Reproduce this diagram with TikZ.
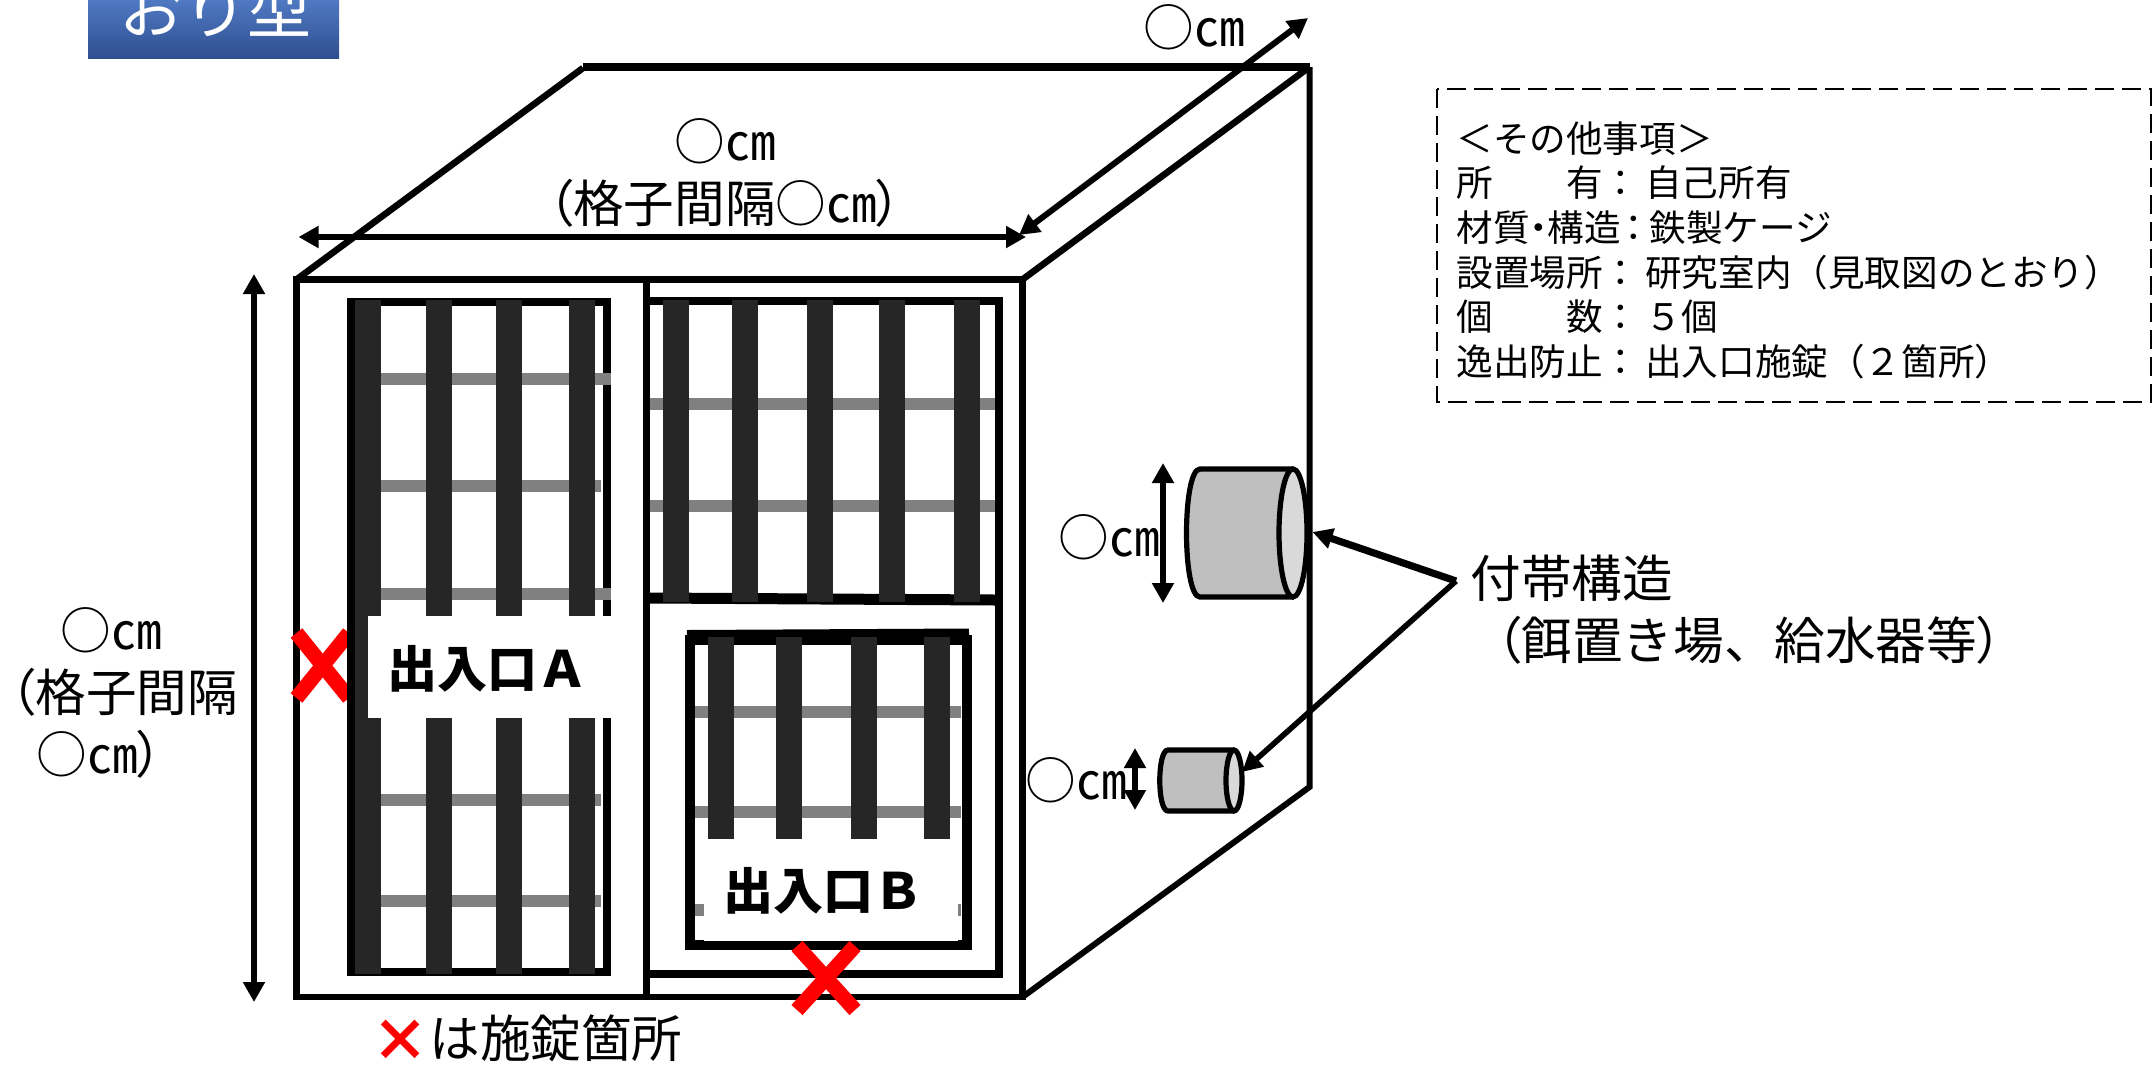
\documentclass[tikz,border=0pt]{standalone}
\usepackage{fontspec}
\setmainfont{Noto Sans CJK JP}
\newfontfamily\jpp[RawFeature=+palt]{Noto Sans CJK JP}
\usetikzlibrary{arrows.meta,shadings}
\newcommand{\lpr}{{\jpp （}}
\newcommand{\rpr}{{\jpp ）}}
\newcommand{\mdot}{{\jpp ・}}
\newcommand{\colo}{：\hspace{3pt}}
\definecolor{bardark}{HTML}{262626}
\definecolor{bargray}{HTML}{808080}
\definecolor{cylbody}{HTML}{BFBFBF}
\definecolor{cylface}{HTML}{D9D9D9}
\definecolor{headtop}{HTML}{5580CC}
\definecolor{headbot}{HTML}{2F4F8F}
\tikzset{
  outline/.style={draw=black,line width=3.3pt,miter limit=10},
  frameline/.style={draw=black,line width=4pt},
  vbar/.style={draw=none,fill=bardark},
  hbar/.style={draw=none,fill=bargray},
  blank/.style={draw=none,fill=white},
  redx/.style={draw=red,line width=7.5pt},
  dimarrow/.style={draw=black,line width=3pt,{Triangle[length=10pt,width=10.5pt]}-{Triangle[length=10pt,width=10.5pt]}},
  callout/.style={draw=black,-{Triangle[length=10pt,width=10pt]}},
  cyl/.style={draw=black,line width=2.6pt},
  label50/.style={font=\fontsize{25.3pt}{31pt}\selectfont,inner sep=0pt,text=black},
  doorlabel/.style={font=\fontsize{25pt}{30pt}\selectfont\bfseries,inner sep=0pt,text=black},
  notes/.style={font=\fontsize{18.3pt}{22.35pt}\selectfont,inner sep=0pt,align=left,text=black},
}
\begin{document}
\begin{tikzpicture}[x=0.5pt,y=-0.5pt]
\useasboundingbox (0,0) rectangle (2152,1066);
\clip (0,0) rectangle (2152,1066);
% heading
\shade[top color=headtop,bottom color=headbot,draw=none] (88,-10) rectangle (339,58);
\node[font=\fontsize{32pt}{36pt}\selectfont,text=white,inner sep=0pt] (heading) at (215,8) {おり型};
% box outline
\draw[outline] (296.5,279.5) rectangle (1022.5,997);
\draw[outline] (296.5,279.5) -- (583,68);
\draw[outline,line width=4pt] (583,67) -- (1309.5,67);
\draw[outline] (1309.5,67) -- (1022.5,279.5);
\draw[outline,line width=3pt] (1309.5,67) -- (1309.5,787) -- (1022.5,997);
% lock mark A
\draw[redx] (296.5,633) -- (349,698);
\draw[redx] (296.5,698) -- (349,633);
% door A
\draw[frameline] (350.5,302) rectangle (607,971.5);
\foreach \y/\r in {379/611,486/601,594/611,800/601,901/601}
  \fill[hbar] (355,\y-6) rectangle (\r,\y+6);
\foreach \x in {368,439,509,582}
  \fill[vbar] (\x-13,300) rectangle (\x+13,974);
\fill[blank] (368,616) rectangle (643,718);
\node[doorlabel] (doorA) at (487,669) {出入口Ａ};
% right panel
\draw[frameline] (650,301) -- (998.5,301) -- (998.5,974) -- (650,974);
\draw[draw=black,line width=5.5pt] (650,598) -- (995,600);
\foreach \y in {404,506}
  \fill[hbar] (650,\y-6) rectangle (994.5,\y+6);
\foreach \x in {676,745,819.5,892,967}
  \fill[vbar] (\x-13,300) rectangle (\x+13,602);
% door B
\draw[draw=black,line width=4.6pt] (690,640) rectangle (967,945);
\draw[draw=black,line width=6pt] (687,636) -- (969,634.5);
\foreach \y in {712,812,910}
  \fill[hbar] (695,\y-6) rectangle (961,\y+6);
\foreach \x in {721,789,864,937}
  \fill[vbar] (\x-13,637) rectangle (\x+13,839);
\fill[blank] (704,839) rectangle (957.5,941);
\fill[blank] (695,839) rectangle (961,904);
\node[doorlabel] (doorB) at (823,891) {出入口Ｂ};
% divider
\draw[draw=black,line width=3.4pt] (646.5,282) -- (646.5,997);
% lock mark B
\draw[redx] (797,946) -- (855,1010);
\draw[redx] (855,946) -- (797,1010);
% dimension arrows
\coordinate (hL) at (298.5,237);
\coordinate (hR) at (1026,237);
\draw[dimarrow] (hL) -- (hR);
\coordinate (dA) at (1019,235);
\coordinate (dB) at (1308,18);
\draw[dimarrow] (dA) -- (dB);
\coordinate (vT) at (254,274);
\coordinate (vB) at (254,1002);
\draw[dimarrow] (vT) -- (vB);
% cylinders
\draw[cyl,fill=cylbody] (1293,469) -- (1200,469) .. controls (1182,469) and (1182,597) .. (1200,597) -- (1293,597);
\draw[cyl,fill=cylface] (1293,533) ellipse [x radius=14,y radius=64];
\draw[cyl,fill=cylbody] (1234,750) -- (1168,750) .. controls (1157,750) and (1157,811) .. (1168,811) -- (1234,811);
\draw[cyl,fill=cylface] (1234,780.5) ellipse [x radius=8,y radius=30.5];
\coordinate (b1) at (1163,463);
\coordinate (b2) at (1163,603);
\draw[dimarrow] (b1) -- (b2);
\coordinate (s1) at (1135,748);
\coordinate (s2) at (1135,810);
\draw[dimarrow] (s1) -- (s2);
% callouts
\coordinate (elbow) at (1456,581);
\coordinate (bigC) at (1312.5,532);
\coordinate (smallC) at (1242,772);
\draw[callout,line width=3.6pt] (elbow) -- (bigC);
\draw[callout,line width=2.8pt] (elbow) -- (smallC);
% texts
\node[label50] (topcm) at (1194,27) {○㎝};
\node[label50,align=center] (widthlbl) at (725,173) {○㎝\\\lpr 格子間隔○㎝\rpr};
\node[label50,align=left,anchor=west] (heightlbl) at (10,693) {\hspace*{25pt}○㎝\\\lpr 格子間隔\\\hspace*{13pt}○㎝\rpr};
\node[label50] (bigcm) at (1109,537) {○㎝};
\node[label50] (smallcm) at (1076,780) {○㎝};
\node[label50,anchor=base west] (legendx) at (371,1057) {{\color{red}\fontsize{29pt}{29pt}\selectfont\bfseries\raisebox{-2pt}{×}}は施錠箇所};
\node[label50,anchor=west,align=left] (appendage) at (1470,610) {付帯構造\\\hspace*{13pt}\lpr 餌置き場、給水器等\rpr};
% notes box
\draw[draw=black,line width=1.3pt,dash pattern=on 9.5pt off 4pt] (1437,89) rectangle (2151,402);
\node[notes,anchor=north west] (notes) at (1456,121) {＜その他事項＞\\所　　有\colo 自己所有\\材質\mdot 構造\hspace{2pt}{\jpp ：}\hspace{3pt}鉄製ケージ\\設置場所\colo 研究室内（見取図のとおり）\\個　　数\colo ５個\\逸出防止\colo 出入口施錠（２箇所）};
\end{tikzpicture}
\end{document}
